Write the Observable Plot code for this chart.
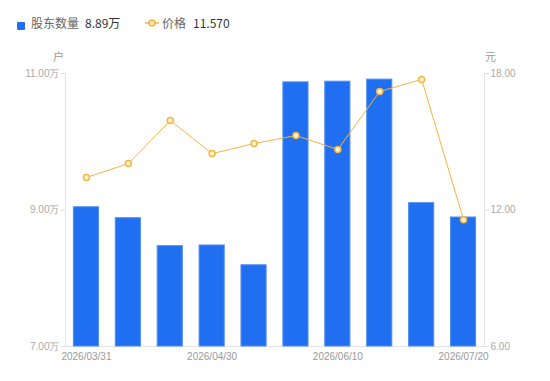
<!DOCTYPE html>
<html><head><meta charset="utf-8">
<script src="https://cdn.jsdelivr.net/npm/d3@7"></script>
<script src="https://cdn.jsdelivr.net/npm/@observablehq/plot@0.6"></script>
<style>
body{margin:0;background:#fff;font-family:"Noto Sans CJK SC","Noto Sans",sans-serif;}
#wrap{position:relative;width:550px;height:381px;}
#wrap svg{position:absolute;left:0;top:0;}
.lg{position:absolute;font-size:12px;line-height:14px;white-space:nowrap;}
</style></head>
<body>
<div id="wrap">
  <div class="lg" style="left:17px;top:18px;"><span style="display:inline-block;width:8px;height:8px;background:#1f6ff0;border-radius:1px;vertical-align:-0px;"></span></div>
  <div class="lg" style="left:31px;top:16px;color:#666;">股东数量</div>
  <div class="lg" style="left:85px;top:16px;color:#333;">8.89万</div>
  <div class="lg" style="left:145px;top:17px;"><svg width="14" height="12" style="position:static"><line x1="0" y1="6" x2="14" y2="6" stroke="#f5b53f" stroke-width="1.5"/><circle cx="7" cy="6" r="3" fill="#fde9b8" stroke="#f5b53f" stroke-width="1.5"/></svg></div>
  <div class="lg" style="left:162px;top:16px;color:#666;">价格</div>
  <div class="lg" style="left:193px;top:16px;color:#333;">11.570</div>
  <div class="lg" style="left:53px;top:49px;color:#999;font-size:11px;">户</div>
  <div class="lg" style="left:485px;top:49px;color:#999;font-size:11px;">元</div>
</div>
<script>
const dates = ["2026/03/31","2026/04/10","2026/04/20","2026/04/30","2026/05/15","2026/05/31","2026/06/10","2026/06/20","2026/06/30","2026/07/20"];
const holders = [9.04, 8.88, 8.47, 8.48, 8.19, 10.87, 10.88, 10.91, 9.10, 8.89]; // 万户
const prices = [13.43, 14.04, 15.93, 14.48, 14.92, 15.27, 14.66, 17.21, 17.74, 11.57];
const xTicks = ["2026/03/31","2026/04/30","2026/06/10","2026/07/20"];
const leftTicks = [7, 9, 11];
const rightTicks = [6, 12, 18];
const holderBase = 7;

const data = dates.map((d, i) => ({date: d, holders: holders[i], price: prices[i]}));

const common = {
  width: 550, height: 381,
  marginLeft: 65, marginRight: 66, marginTop: 73, marginBottom: 35,
  style: {background: "transparent", fontFamily: "'Liberation Sans', Arial, sans-serif", fontSize: "10px", color: "#aaa"}
};

const bars = Plot.plot({
  ...common,
  x: {type: "band", domain: dates, paddingInner: 0.4, paddingOuter: 0.2, round: false},
  y: {domain: [7, 11]},
  marks: [
    Plot.frame({anchor: "left", stroke: "#e3e3e3"}),
    Plot.frame({anchor: "bottom", stroke: "#e3e3e3"}),
    Plot.frame({anchor: "right", stroke: "#e3e3e3"}),
    Plot.barY(data, {x: "date", y1: () => holderBase, y2: "holders", fill: "#1f6ff0", stroke: "#4f8ef4", strokeWidth: 1}),
    Plot.axisY({anchor: "left", ticks: leftTicks, tickFormat: d => d.toFixed(2) + "万", tickSize: 4, tickPadding: 2, label: null, stroke: "#ddd", fill: "#aaa"}),
    Plot.axisX({ticks: xTicks, tickSize: 0, tickPadding: 6, label: null, fill: "#999"})
  ]
});

const line = Plot.plot({
  ...common,
  x: {type: "point", domain: dates, padding: 0.5, round: false, axis: null},
  y: {domain: [6, 18]},
  marks: [
    Plot.axisY({anchor: "right", ticks: rightTicks, tickFormat: d => d.toFixed(2), tickSize: 4, tickPadding: 2, label: null, stroke: "#ddd", fill: "#aaa"}),
    Plot.line(data, {x: "date", y: "price", stroke: "#f5b53f", strokeWidth: 1}),
    Plot.dot(data, {x: "date", y: "price", r: 3, fill: "#fff3d6", stroke: "#f5b53f", strokeWidth: 1.5})
  ]
});

const wrap = document.getElementById("wrap");
wrap.appendChild(bars);
wrap.appendChild(line);
</script>
</body></html>
